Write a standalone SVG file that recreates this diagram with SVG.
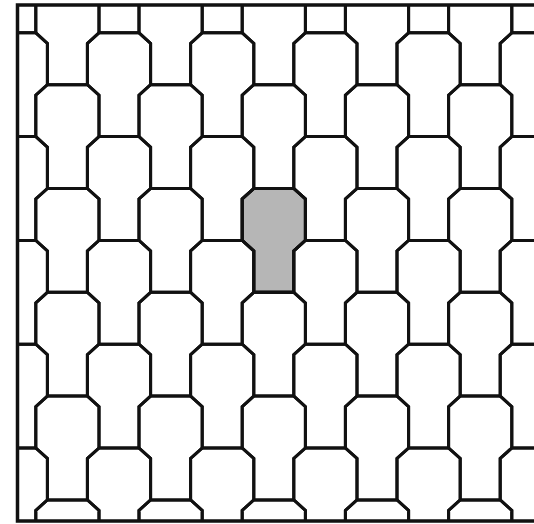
<svg xmlns="http://www.w3.org/2000/svg" xmlns:xlink="http://www.w3.org/1999/xlink" width="534" height="524" viewBox="0 0 534 524">
<style>
.t{fill:none;stroke:#111;stroke-width:3;stroke-linejoin:miter}
.s{fill:#b6b6b6;stroke:#111;stroke-width:3}
.f{fill:none;stroke:#111;stroke-width:3.5}
</style>
<defs>
<path id="tile" d="M-20,0 H20 L31.6,10.5 V51.9 L20,62.4 V103.8 H-20 V62.4 L-31.6,51.9 V10.5 Z"/>
<clipPath id="clip"><rect x="17.5" y="5" width="520" height="516"/></clipPath>
</defs>
<rect width="534" height="524" fill="#fff"/>
<g id="tiles" clip-path="url(#clip)">
<use id="shaded" href="#tile" xlink:href="#tile" x="273.8" y="188.5" class="s"/>
<g id="c0"><use href="#tile" x="15.8" y="-71" class="t"/><use href="#tile" x="15.8" y="32.8" class="t"/><use href="#tile" x="15.8" y="136.6" class="t"/><use href="#tile" x="15.8" y="240.4" class="t"/><use href="#tile" x="15.8" y="344.2" class="t"/><use href="#tile" x="15.8" y="448" class="t"/></g>
<g id="c1"><use href="#tile" x="67.4" y="-19.1" class="t"/><use href="#tile" x="67.4" y="84.7" class="t"/><use href="#tile" x="67.4" y="188.5" class="t"/><use href="#tile" x="67.4" y="292.3" class="t"/><use href="#tile" x="67.4" y="396.1" class="t"/><use href="#tile" x="67.4" y="499.9" class="t"/></g>
<g id="c2"><use href="#tile" x="119" y="-71" class="t"/><use href="#tile" x="119" y="32.8" class="t"/><use href="#tile" x="119" y="136.6" class="t"/><use href="#tile" x="119" y="240.4" class="t"/><use href="#tile" x="119" y="344.2" class="t"/><use href="#tile" x="119" y="448" class="t"/></g>
<g id="c3"><use href="#tile" x="170.6" y="-19.1" class="t"/><use href="#tile" x="170.6" y="84.7" class="t"/><use href="#tile" x="170.6" y="188.5" class="t"/><use href="#tile" x="170.6" y="292.3" class="t"/><use href="#tile" x="170.6" y="396.1" class="t"/><use href="#tile" x="170.6" y="499.9" class="t"/></g>
<g id="c4"><use href="#tile" x="222.2" y="-71" class="t"/><use href="#tile" x="222.2" y="32.8" class="t"/><use href="#tile" x="222.2" y="136.6" class="t"/><use href="#tile" x="222.2" y="240.4" class="t"/><use href="#tile" x="222.2" y="344.2" class="t"/><use href="#tile" x="222.2" y="448" class="t"/></g>
<g id="c5"><use href="#tile" x="273.8" y="-19.1" class="t"/><use href="#tile" x="273.8" y="84.7" class="t"/><use href="#tile" x="273.8" y="188.5" class="t"/><use href="#tile" x="273.8" y="292.3" class="t"/><use href="#tile" x="273.8" y="396.1" class="t"/><use href="#tile" x="273.8" y="499.9" class="t"/></g>
<g id="c6"><use href="#tile" x="325.4" y="-71" class="t"/><use href="#tile" x="325.4" y="32.8" class="t"/><use href="#tile" x="325.4" y="136.6" class="t"/><use href="#tile" x="325.4" y="240.4" class="t"/><use href="#tile" x="325.4" y="344.2" class="t"/><use href="#tile" x="325.4" y="448" class="t"/></g>
<g id="c7"><use href="#tile" x="377" y="-19.1" class="t"/><use href="#tile" x="377" y="84.7" class="t"/><use href="#tile" x="377" y="188.5" class="t"/><use href="#tile" x="377" y="292.3" class="t"/><use href="#tile" x="377" y="396.1" class="t"/><use href="#tile" x="377" y="499.9" class="t"/></g>
<g id="c8"><use href="#tile" x="428.6" y="-71" class="t"/><use href="#tile" x="428.6" y="32.8" class="t"/><use href="#tile" x="428.6" y="136.6" class="t"/><use href="#tile" x="428.6" y="240.4" class="t"/><use href="#tile" x="428.6" y="344.2" class="t"/><use href="#tile" x="428.6" y="448" class="t"/></g>
<g id="c9"><use href="#tile" x="480.2" y="-19.1" class="t"/><use href="#tile" x="480.2" y="84.7" class="t"/><use href="#tile" x="480.2" y="188.5" class="t"/><use href="#tile" x="480.2" y="292.3" class="t"/><use href="#tile" x="480.2" y="396.1" class="t"/><use href="#tile" x="480.2" y="499.9" class="t"/></g>
<g id="c10"><use href="#tile" x="531.8" y="-71" class="t"/><use href="#tile" x="531.8" y="32.8" class="t"/><use href="#tile" x="531.8" y="136.6" class="t"/><use href="#tile" x="531.8" y="240.4" class="t"/><use href="#tile" x="531.8" y="344.2" class="t"/><use href="#tile" x="531.8" y="448" class="t"/></g>
</g>
<path id="frame" class="f" d="M534,5 H17.5 V521 H534"/>
</svg>
